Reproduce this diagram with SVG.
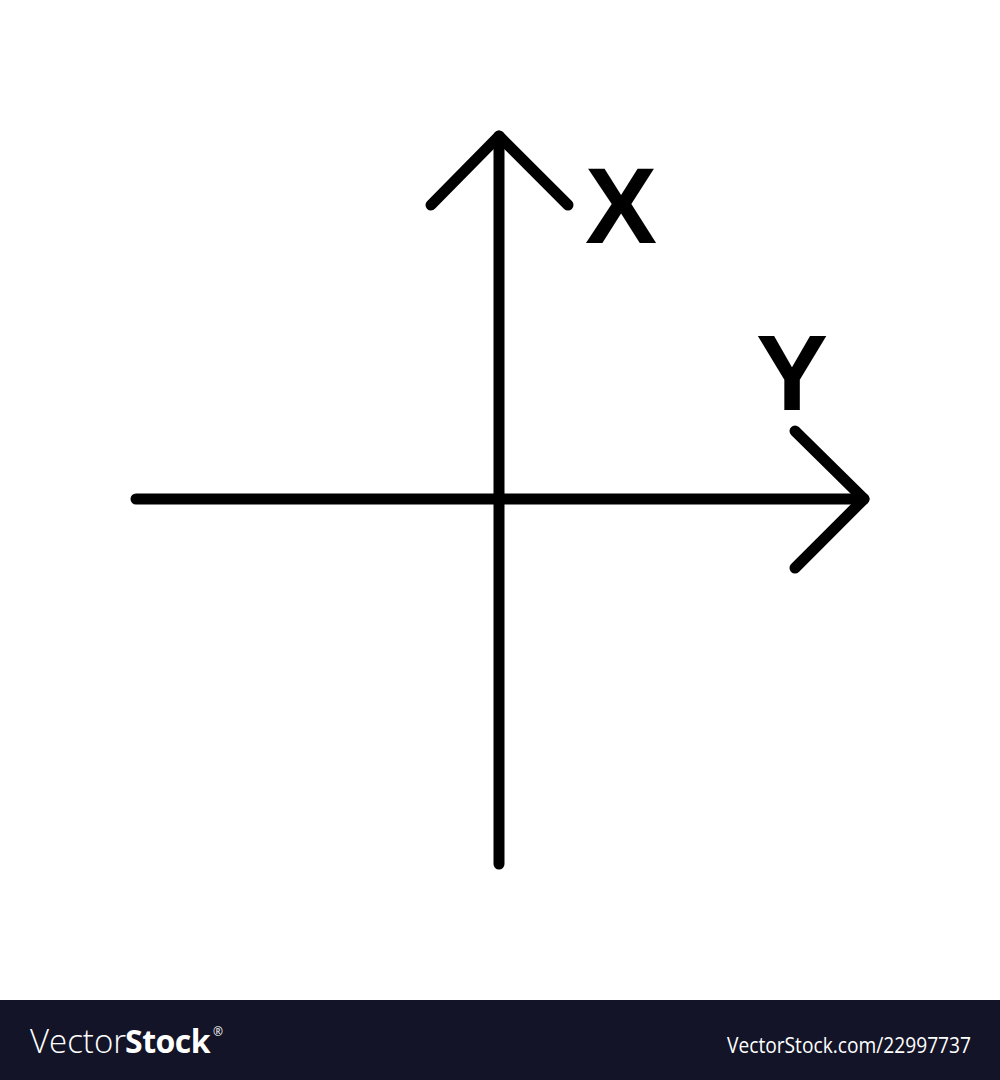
<svg xmlns="http://www.w3.org/2000/svg" width="1000" height="1080" viewBox="0 0 1000 1080">
<style>
.ax{fill:none;stroke:#000;stroke-width:11;stroke-linecap:round;stroke-linejoin:round}
.lbl{font-family:"Liberation Sans",Arial,sans-serif;font-weight:bold;font-size:108px;fill:#000;text-anchor:middle}
.wm{font-family:"Open Sans","Liberation Sans",sans-serif;fill:#fff}
</style>
<rect width="1000" height="1080" fill="#fff"/>
<g id="connectors">
<path class="ax" d="M136 499 H864"/>
<path class="ax" d="M499 136 V864"/>
<path class="ax" d="M431 205 L499 136 L568 205"/>
<path class="ax" d="M795 431 L864 499 L795 568"/>
</g>
<g id="label-x"><text class="lbl" x="621" y="243">X</text></g>
<g id="label-y"><text class="lbl" x="792" y="410">Y</text></g>
<g id="watermark">
<rect x="0" y="1000" width="1000" height="80" fill="#131427"/>
<text class="wm" x="30" y="1053" font-size="33" font-weight="300">Vector</text>
<text class="wm" x="125" y="1053" font-size="32" font-weight="bold" letter-spacing="-0.5">Stock</text>
<text class="wm" x="213" y="1036" font-size="12">®</text>
<text class="wm" x="971" y="1053" font-size="21" text-anchor="end" textLength="244" lengthAdjust="spacingAndGlyphs">VectorStock.com/22997737</text>
</g>
</svg>
